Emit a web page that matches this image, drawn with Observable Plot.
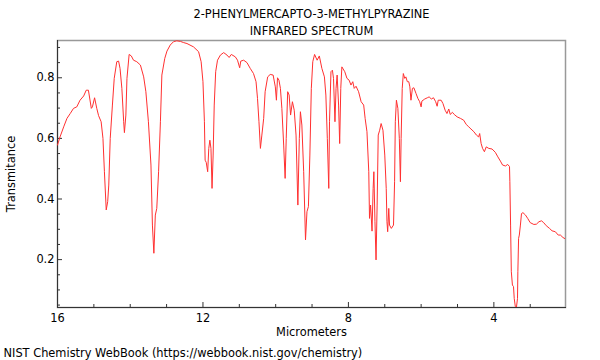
<!DOCTYPE html>
<html>
<head>
<meta charset="utf-8">
<script src="https://cdn.jsdelivr.net/npm/d3@7"></script>
<script src="https://cdn.jsdelivr.net/npm/@observablehq/plot@0.6"></script>
<style>
  body { margin: 0; background: #fff; }
  svg { font-family: "DejaVu Sans", sans-serif; }
</style>
</head>
<body>
<div id="chart"></div>
<script>
const titleLines = ["2-PHENYLMERCAPTO-3-METHYLPYRAZINE", "INFRARED SPECTRUM"];
const xLabel = "Micrometers";
const yLabel = "Transmitance";
const caption = "NIST Chemistry WebBook (https://webbook.nist.gov/chemistry)";

const xMajorTicks = [16, 12, 8, 4];
const xMinorTicks = [15, 14, 13, 11, 10, 9, 7, 6, 5, 3];
const yMajorTicks = [0.2, 0.4, 0.6, 0.8];
const yMinorTicks = [0.05, 0.1, 0.15, 0.25, 0.3, 0.35, 0.45, 0.5, 0.55, 0.65, 0.7, 0.75, 0.85, 0.9];

const micrometers = [
  16.00, 15.93, 15.83, 15.74, 15.65, 15.56, 15.47, 15.38, 15.28, 15.21,
  15.15, 15.07, 15.04, 14.98, 14.92, 14.87, 14.80, 14.75, 14.71, 14.66,
  14.62, 14.59, 14.55, 14.49, 14.44, 14.37, 14.32, 14.28, 14.23, 14.18,
  14.16, 14.12, 14.09, 14.03, 13.97, 13.91, 13.82, 13.72, 13.63, 13.57,
  13.50, 13.43, 13.39, 13.35, 13.31, 13.27, 13.22, 13.17, 13.13, 13.05,
  12.99, 12.90, 12.81, 12.72, 12.62, 12.53, 12.44, 12.26, 12.12, 12.05,
  12.00, 11.96, 11.94, 11.91, 11.87, 11.84, 11.81, 11.78, 11.75, 11.72,
  11.69, 11.65, 11.60, 11.52, 11.43, 11.34, 11.28, 11.22, 11.11, 11.05,
  10.99, 10.96, 10.88, 10.79, 10.70, 10.61, 10.54, 10.50, 10.46, 10.42,
  10.38, 10.33, 10.29, 10.22, 10.15, 10.07, 10.01, 9.98, 9.95, 9.91,
  9.87, 9.83, 9.78, 9.74, 9.71, 9.67, 9.63, 9.59, 9.54, 9.49,
  9.44, 9.39, 9.35, 9.32, 9.28, 9.23, 9.18, 9.14, 9.10, 9.06,
  9.02, 8.98, 8.93, 8.86, 8.80, 8.73, 8.66, 8.62, 8.58, 8.54,
  8.52, 8.48, 8.44, 8.41, 8.37, 8.34, 8.31, 8.27, 8.24, 8.21,
  8.18, 8.10, 8.04, 7.98, 7.93, 7.88, 7.84, 7.79, 7.72, 7.65,
  7.58, 7.54, 7.49, 7.44, 7.42, 7.39, 7.35, 7.32, 7.30, 7.27,
  7.24, 7.21, 7.18, 7.14, 7.10, 7.05, 7.00, 6.96, 6.94, 6.92,
  6.89, 6.87, 6.82, 6.76, 6.73, 6.71, 6.68, 6.64, 6.60, 6.57,
  6.55, 6.52, 6.49, 6.45, 6.42, 6.38, 6.34, 6.31, 6.28, 6.24,
  6.20, 6.14, 6.09, 6.04, 6.00, 5.98, 5.90, 5.83, 5.78, 5.72,
  5.66, 5.60, 5.56, 5.53, 5.45, 5.40, 5.34, 5.29, 5.24, 5.20,
  5.14, 5.09, 5.01, 4.92, 4.83, 4.76, 4.69, 4.63, 4.55, 4.48,
  4.42, 4.39, 4.35, 4.31, 4.26, 4.21, 4.14, 4.05, 3.96, 3.89,
  3.82, 3.76, 3.68, 3.62, 3.57, 3.56, 3.54, 3.52, 3.49, 3.46,
  3.44, 3.41, 3.38, 3.35, 3.34, 3.32, 3.30, 3.27, 3.24, 3.20,
  3.13, 3.07, 3.00, 2.90, 2.83, 2.76, 2.69, 2.63, 2.56, 2.47,
  2.40, 2.31, 2.23, 2.17, 2.10, 2.03
];
const transmittance = [
  0.578, 0.605, 0.638, 0.666, 0.682, 0.699, 0.704, 0.726, 0.740, 0.759,
  0.759, 0.699, 0.704, 0.734, 0.699, 0.675, 0.655, 0.600, 0.490, 0.364,
  0.391, 0.446, 0.600, 0.710, 0.798, 0.853, 0.855, 0.831, 0.765, 0.655,
  0.619, 0.677, 0.798, 0.877, 0.872, 0.858, 0.853, 0.842, 0.803, 0.754,
  0.655, 0.512, 0.314, 0.221, 0.347, 0.369, 0.490, 0.655, 0.809, 0.864,
  0.888, 0.908, 0.919, 0.922, 0.920, 0.916, 0.913, 0.902, 0.886, 0.853,
  0.787, 0.655, 0.528, 0.521, 0.490, 0.567, 0.594, 0.567, 0.435, 0.545,
  0.710, 0.820, 0.858, 0.875, 0.883, 0.875, 0.867, 0.877, 0.869, 0.858,
  0.833, 0.855, 0.858, 0.850, 0.831, 0.814, 0.787, 0.732, 0.655, 0.567,
  0.611, 0.666, 0.754, 0.803, 0.811, 0.809, 0.770, 0.726, 0.800, 0.792,
  0.765, 0.699, 0.578, 0.468, 0.600, 0.754, 0.743, 0.677, 0.721, 0.693,
  0.611, 0.380, 0.600, 0.688, 0.644, 0.490, 0.265, 0.358, 0.375, 0.545,
  0.765, 0.853, 0.877, 0.858, 0.872, 0.831, 0.803, 0.743, 0.600, 0.435,
  0.655, 0.820, 0.825, 0.798, 0.655, 0.765, 0.809, 0.710, 0.583, 0.765,
  0.836, 0.820, 0.798, 0.792, 0.776, 0.787, 0.765, 0.772, 0.754, 0.721,
  0.710, 0.666, 0.622, 0.490, 0.336, 0.380, 0.294, 0.435, 0.490, 0.325,
  0.199, 0.380, 0.611, 0.627, 0.649, 0.627, 0.545, 0.435, 0.325, 0.292,
  0.369, 0.314, 0.303, 0.314, 0.457, 0.655, 0.726, 0.699, 0.600, 0.457,
  0.600, 0.765, 0.814, 0.798, 0.803, 0.787, 0.787, 0.770, 0.726, 0.765,
  0.767, 0.748, 0.732, 0.721, 0.704, 0.723, 0.730, 0.734, 0.737, 0.730,
  0.734, 0.721, 0.706, 0.726, 0.726, 0.715, 0.693, 0.682, 0.697, 0.679,
  0.686, 0.679, 0.671, 0.666, 0.660, 0.646, 0.638, 0.631, 0.622, 0.611,
  0.605, 0.616, 0.583, 0.567, 0.556, 0.572, 0.567, 0.565, 0.554, 0.539,
  0.525, 0.512, 0.509, 0.514, 0.507, 0.457, 0.314, 0.160, 0.116, 0.111,
  0.072, 0.045, 0.042, 0.072, 0.160, 0.270, 0.281, 0.314, 0.352, 0.355,
  0.347, 0.336, 0.322, 0.316, 0.317, 0.325, 0.328, 0.322, 0.312, 0.303,
  0.295, 0.292, 0.281, 0.281, 0.273, 0.268
];

const spectrum = micrometers.map((m, i) => ({m, t: transmittance[i]}));
const fs = 11.4;

const chart = Plot.plot({
  width: 600,
  height: 360,
  marginLeft: 57,
  marginRight: 35,
  marginTop: 40,
  marginBottom: 53,
  style: {fontSize: fs + "px", fontFamily: "'DejaVu Sans', sans-serif", color: "#000", background: "#fff"},
  x: {domain: [16, 2.03]},
  y: {domain: [0.042, 0.923]},
  marks: [
    Plot.frame({stroke: "#999", strokeWidth: 1.5}),
    Plot.frame({anchor: "left", stroke: "#333"}),
    Plot.frame({anchor: "bottom", stroke: "#333"}),
    Plot.axisX(xMajorTicks, {tickSize: -5, tickPadding: 11, tickFormat: d => String(d), label: null, stroke: "#333", fontSize: fs}),
    Plot.axisX(xMinorTicks, {tickSize: -3, tickFormat: () => "", label: null, stroke: "#333"}),
    Plot.axisY(yMajorTicks, {tickSize: -5, tickPadding: 8, tickFormat: d => d.toFixed(1), label: null, stroke: "#333", fontSize: fs}),
    Plot.axisY(yMinorTicks, {tickSize: -3, tickFormat: () => "", label: null, stroke: "#333"}),
    Plot.line(spectrum, {x: "m", y: "t", stroke: "#ff3030", strokeWidth: 1, clip: true}),
    Plot.text([titleLines[0]], {frameAnchor: "top", dy: -31, text: d => d, fontSize: fs}),
    Plot.text([titleLines[1]], {frameAnchor: "top", dy: -14, text: d => d, fontSize: fs}),
    Plot.text([xLabel], {frameAnchor: "bottom", dy: 28, text: d => d, fontSize: fs}),
    Plot.text([yLabel], {frameAnchor: "left", dx: -46, rotate: -90, textAnchor: "middle", text: d => d, fontSize: fs}),
    Plot.text([caption], {frameAnchor: "bottom-left", dx: -54, dy: 49, textAnchor: "start", text: d => d, fontSize: fs})
  ]
});
document.getElementById("chart").appendChild(chart);
</script>
</body>
</html>
